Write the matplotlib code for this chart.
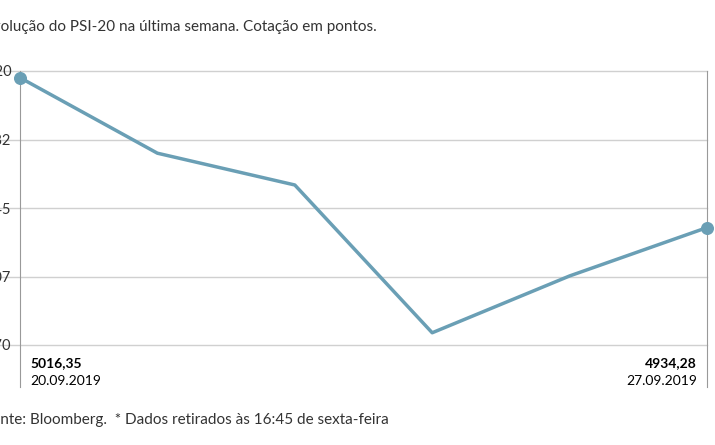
import matplotlib
matplotlib.use("Agg")
import matplotlib.pyplot as plt

days = ["20.09.2019", "23.09", "24.09", "25.09", "26.09", "27.09.2019"]
values = [5016.35, 4975.0, 4957.6, 4876.7, 4907.8, 4934.28]
yticks = [4870.0, 4907.5, 4945.0, 4982.5, 5020.0]
ytick_labels = ["4.870", "4.907", "4.945", "4.982", "5.020"]

plt.rcParams['font.family'] = ['Lato', 'DejaVu Sans']
W, H = 715, 445
fig = plt.figure(figsize=(7.15, 4.45), dpi=100)
ax = fig.add_axes([20/W, 1-387/H, 687/W, (387-71)/H])
ax.set_ylim(4870 - 42*150/274, 5020)
ax.set_xlim(0, len(values)-1)
for t in yticks:
    ax.axhline(t, color="#d0d0d0", lw=1, zorder=1, clip_on=False, xmin=-0.03)
color = "#6a9fb5"
ax.plot(range(len(values)), values, color=color, lw=2.5, zorder=3, clip_on=False)
ax.scatter([0, len(values)-1], [values[0], values[-1]], s=70, color=color, zorder=4, clip_on=False)
for s in ["top", "bottom"]:
    ax.spines[s].set_visible(False)
for s in ["left", "right"]:
    ax.spines[s].set_color("#999999")
ax.set_xticks([])
ax.set_yticks(yticks)
ax.set_yticklabels(ytick_labels, fontsize=10.5, color="#333333")
ax.tick_params(axis="y", length=0, pad=6)

ax.text(0.015, 4870 - 12*150/274, f"{values[0]:.2f}".replace(".", ","), fontsize=10, fontweight="bold", va="top", ha="left", transform=ax.get_yaxis_transform())
ax.text(0.015, 4870 - 30*150/274, days[0], fontsize=10, va="top", ha="left", transform=ax.get_yaxis_transform())
ax.text(0.985, 4870 - 12*150/274, f"{values[-1]:.2f}".replace(".", ","), fontsize=10, fontweight="bold", va="top", ha="right", transform=ax.get_yaxis_transform())
ax.text(0.985, 4870 - 30*150/274, days[-1], fontsize=10, va="top", ha="right", transform=ax.get_yaxis_transform())

fig.text(-16/W, 1-27/H, "Evolução do PSI-20 na última semana. Cotação em pontos.", fontsize=11, color="#333333", va="center")
fig.text(-17/W, 1-420/H, "Fonte: Bloomberg.  * Dados retirados às 16:45 de sexta-feira", fontsize=11, color="#333333", va="center")
fig.savefig("out.png", dpi=100)
